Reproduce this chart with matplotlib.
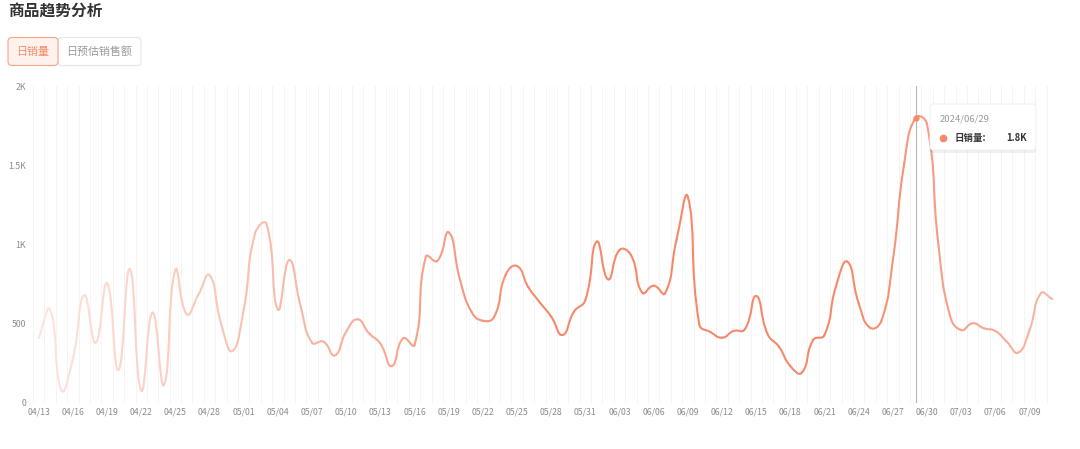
import numpy as np
import pandas as pd
import matplotlib
matplotlib.use("Agg")
import matplotlib.pyplot as plt
from matplotlib.path import Path
from matplotlib.patches import PathPatch, FancyBboxPatch
from matplotlib.colors import to_rgb

plt.rcParams['font.family'] = ['Noto Sans CJK SC', 'DejaVu Sans']

## data: daily sales volume, 2024/04/13 - 2024/07/11
dates = pd.date_range("2024-04-13", periods=90)
date_labels = [d.strftime("%m/%d") for d in dates]
sales = [
    410, 590, 80, 280, 680, 380, 755, 208, 845, 78,
    570, 114, 839, 560, 680, 807, 505, 328, 590, 1070,
    1130, 590, 902, 610, 381, 387, 300, 450, 528, 440,
    375, 233, 408, 366, 923, 896, 1077, 776, 576, 519,
    545, 808, 864, 730, 635, 545, 429, 576, 650, 1018,
    780, 965, 934, 696, 740, 692, 1028, 1300, 498, 447,
    412, 454, 465, 675, 435, 355, 233, 191, 397, 429,
    734, 892, 629, 475, 520, 902, 1512, 1800, 1760, 1000,
    555, 460, 503, 471, 454, 387, 318, 460, 692, 656,
]
y_ticks = [0, 500, 1000, 1500, 2000]
y_labels = ["0", "500", "1K", "1.5K", "2K"]
tip_idx = 77          # 2024/06/29
tip_value = "1.8K"

line_color = "#F5896B"

fig = plt.figure(figsize=(10.8, 4.49), dpi=100)
ax = fig.add_axes([33 / 1080, 1 - 403 / 449, (1058 - 33) / 1080, (403 - 86) / 449])

n = len(sales)
x = np.arange(n)
ax.set_xlim(-0.5, n - 0.8)
ax.set_ylim(0, 2000)

# vertical day grid, no horizontal grid
ax.set_xticks(np.arange(n + 1) - 0.5, minor=True)
ax.grid(True, which="minor", axis="x", color="#F4F4F4", lw=0.7)
ax.set_xticks(x[::3])
ax.set_xticklabels(date_labels[::3])
ax.set_yticks(y_ticks)
ax.set_yticklabels(y_labels)
ax.tick_params(axis="both", which="both", length=0, labelsize=6.3, colors="#8C8C8C")
ax.tick_params(axis="x", pad=3)
ax.tick_params(axis="y", pad=5)
for s in ax.spines.values():
    s.set_visible(False)

## smooth line (echarts-like bezier), control points worked out in pixel space
pts = ax.transData.transform(np.column_stack([x, sales]))
smooth = 0.5
cp_in = pts.copy()
cp_out = pts.copy()
for i in range(n):
    prev = pts[i - 1] if i > 0 else pts[i]
    nxt = pts[i + 1] if i < n - 1 else pts[i]
    v = nxt - prev
    d0 = np.hypot(*(pts[i] - prev))
    d1 = np.hypot(*(nxt - pts[i]))
    tot = d0 + d1
    if tot == 0:
        continue
    cp_out[i] = pts[i] + v * smooth * d1 / tot
    cp_in[i] = pts[i] - v * smooth * d0 / tot
inv = ax.transData.inverted()
P = inv.transform(pts)
CI = inv.transform(cp_in)
CO = inv.transform(cp_out)

# colour fades at both ends
stops_pos = [0.0, 0.35, 0.5, 0.8, 1.0]
stops_val = [0.22, 0.75, 1.0, 1.0, 0.6]
base = np.array(to_rgb(line_color))
for i in range(n - 1):
    k = np.interp((i + 0.5) / (n - 1), stops_pos, stops_val)
    col = 1 - k * (1 - base)
    path = Path([P[i], CO[i], CI[i + 1], P[i + 1]],
                [Path.MOVETO, Path.CURVE4, Path.CURVE4, Path.CURVE4])
    ax.add_patch(PathPatch(path, facecolor="none", edgecolor=col, lw=1.5,
                           capstyle="round", zorder=3))

# hover line and dot
ax.axvline(tip_idx, color="#B5B5B5", lw=0.8, zorder=2)
ax.plot(tip_idx, sales[tip_idx], "o", color=line_color, ms=3.5, zorder=4)

## overlay in pixel coords for title, buttons and tooltip
ov = fig.add_axes([0, 0, 1, 1])
ov.set_xlim(0, 1080)
ov.set_ylim(449, 0)
ov.axis("off")

ov.text(8, 12, "商品趋势分析", fontsize=11.3, fontweight="bold", color="#333333",
        va="center", ha="left")

ov.add_patch(FancyBboxPatch((58, 37.5), 83, 28, boxstyle="round,pad=0,rounding_size=4",
                            fc="white", ec="#E6E6E6", lw=0.8))
ov.add_patch(FancyBboxPatch((8, 37.5), 50, 28, boxstyle="round,pad=0,rounding_size=4",
                            fc="#FFF1EC", ec="#F7A68C", lw=0.8))
ov.text(33, 52, "日销量", fontsize=7.9, color="#F5896B", ha="center", va="center")
ov.text(99.5, 52, "日预估销售额", fontsize=7.9, color="#9A9A9A", ha="center", va="center")

# tooltip
ov.add_patch(FancyBboxPatch((930, 105), 106, 48, boxstyle="round,pad=0,rounding_size=3",
                            fc="#000000", ec="none", alpha=0.06))
ov.add_patch(FancyBboxPatch((930, 104), 106, 46, boxstyle="round,pad=0,rounding_size=3",
                            fc="white", ec="#EEEEEE", lw=0.6))
ov.text(940, 119, dates[tip_idx].strftime("%Y/%m/%d"), fontsize=6.8, color="#9A9A9A",
        ha="left", va="center")
ov.plot(943, 138, "o", color=line_color, ms=4.5)
ov.text(955, 138, "日销量:", fontsize=6.8, fontweight="bold", color="#333333",
        ha="left", va="center")
ov.text(1027, 138, tip_value, fontsize=6.8, fontweight="bold", color="#333333",
        ha="right", va="center")

fig.savefig("out.png", dpi=100)
